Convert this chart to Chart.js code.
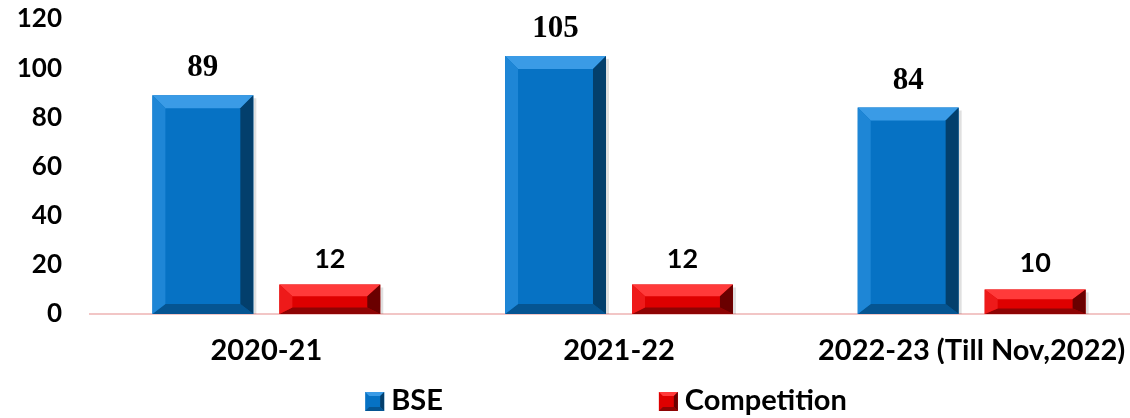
<!DOCTYPE html>
<html>
<head>
<meta charset="utf-8">
<script src="https://cdn.jsdelivr.net/npm/chart.js@4.4.1/dist/chart.umd.min.js"></script>
<style>
  html, body { margin: 0; padding: 0; background: #fff; overflow: hidden; }
  #wrap { width: 1160px; height: 418px; }
</style>
</head>
<body>
<div id="wrap"><canvas id="myChart" width="1160" height="418"></canvas></div>
<script>
const categories = ['2020-21', '2021-22', '2022-23 (Till Nov,2022)'];
const bseValues = [89, 105, 84];
const competitionValues = [12, 12, 10];
const yTicks = [0, 20, 40, 60, 80, 100, 120];

// bevel colours per series: face, top, left, right, bottom
const bevels = [
  { face: '#0672C4', top: '#3A9BE6', left: '#1E86D6', right: '#033F6C', bottom: '#055592' },
  { face: '#DE0000', top: '#FF3A3A', left: '#EE1A1A', right: '#6A0000', bottom: '#8E0404' }
];

const bevelBars = {
  id: 'bevelBars',
  afterDatasetsDraw(chart) {
    const ctx = chart.ctx;
    chart.data.datasets.forEach((ds, i) => {
      const meta = chart.getDatasetMeta(i);
      const c = bevels[i];
      meta.data.forEach(bar => {
        const p = bar.getProps(['x', 'y', 'base', 'width'], true);
        const l = p.x - p.width / 2, r = p.x + p.width / 2;
        const t = p.y, b = p.base;
        const h = b - t;
        const bt = Math.min(13, h * 0.4);
        const bb = Math.min(10, h * 0.22);
        const bs = 13;
        ctx.save();
        ctx.fillStyle = 'rgba(0,0,0,0.12)';
        ctx.fillRect(r, t + 3, 3, h - 3);
        const poly = (pts, col) => {
          ctx.beginPath();
          ctx.moveTo(pts[0][0], pts[0][1]);
          for (let k = 1; k < pts.length; k++) ctx.lineTo(pts[k][0], pts[k][1]);
          ctx.closePath();
          ctx.fillStyle = col;
          ctx.fill();
        };
        poly([[l, t], [r, t], [r - bs, t + bt], [l + bs, t + bt]], c.top);
        poly([[l, b], [r, b], [r - bs, b - bb], [l + bs, b - bb]], c.bottom);
        poly([[l, t], [l + bs, t + bt], [l + bs, b - bb], [l, b]], c.left);
        poly([[r, t], [r - bs, t + bt], [r - bs, b - bb], [r, b]], c.right);
        ctx.restore();
      });
    });
  }
};

const valueLabels = {
  id: 'valueLabels',
  afterDatasetsDraw(chart) {
    const ctx = chart.ctx;
    chart.data.datasets.forEach((ds, i) => {
      const meta = chart.getDatasetMeta(i);
      meta.data.forEach((bar, j) => {
        ctx.save();
        ctx.fillStyle = '#000';
        ctx.textAlign = 'center';
        ctx.textBaseline = 'alphabetic';
        ctx.font = i === 0 ? 'bold 31px "Liberation Serif"' : 'bold 27px Lato';
        ctx.fillText(String(ds.data[j]), bar.x, bar.y - (i === 0 ? 19 : 17));
        ctx.restore();
      });
    });
  }
};

const customLegend = {
  id: 'customLegend',
  afterDraw(chart) {
    const ctx = chart.ctx;
    ctx.save();
    ctx.font = 'bold 29px Lato';
    const box = 19, gapText = 7, gapItem = 216;
    const widths = chart.data.datasets.map(ds => box + gapText + ctx.measureText(ds.label).width);
    const total = widths.reduce((a, w) => a + w, 0) + gapItem * (widths.length - 1);
    let x = 606 - total / 2;
    const yMid = 401;
    chart.data.datasets.forEach((ds, i) => {
      const c = bevels[i];
      const t = yMid - 9, l = x, r = x + box, b = t + box, s = 4;
      ctx.fillStyle = c.face; ctx.fillRect(l, t, box, box);
      ctx.fillStyle = c.top;
      ctx.beginPath(); ctx.moveTo(l, t); ctx.lineTo(r, t); ctx.lineTo(r - s, t + s); ctx.lineTo(l + s, t + s); ctx.fill();
      ctx.fillStyle = c.right;
      ctx.beginPath(); ctx.moveTo(r, t); ctx.lineTo(r, b); ctx.lineTo(r - s, b - s); ctx.lineTo(r - s, t + s); ctx.fill();
      ctx.fillStyle = c.bottom;
      ctx.beginPath(); ctx.moveTo(l, b); ctx.lineTo(r, b); ctx.lineTo(r - s, b - s); ctx.lineTo(l + s, b - s); ctx.fill();
      ctx.fillStyle = '#000';
      ctx.textAlign = 'left';
      ctx.textBaseline = 'middle';
      ctx.fillText(ds.label, x + box + gapText, yMid);
      x += widths[i] + gapItem;
    });
    ctx.restore();
  }
};

new Chart(document.getElementById('myChart').getContext('2d'), {
  type: 'bar',
  data: {
    labels: categories,
    datasets: [
      { label: 'BSE', data: bseValues, backgroundColor: bevels[0].face, borderWidth: 0 },
      { label: 'Competition', data: competitionValues, backgroundColor: bevels[1].face, borderWidth: 0 }
    ]
  },
  options: {
    responsive: false,
    animation: false,
    layout: { padding: { left: 0, right: 12, top: 19, bottom: 54 } },
    datasets: { bar: { categoryPercentage: 0.72, barPercentage: 0.795 } },
    plugins: { legend: { display: false }, tooltip: { enabled: false } },
    scales: {
      x: {
        afterFit(scale) { scale.height = 50; },
        grid: { display: false, drawTicks: false },
        border: { display: true, color: '#F2C6C6', width: 2 },
        ticks: { color: '#000', padding: 19, font: { family: 'Lato', weight: 'bold', size: 29 } }
      },
      y: {
        min: 0,
        max: 120,
        afterFit(scale) {
          scale.width = 90;
          scale.paddingTop = 0;
          scale.paddingBottom = 0;
        },
        afterBuildTicks(scale) { scale.ticks = yTicks.map(v => ({ value: v })); },
        grid: { display: false, drawTicks: false },
        border: { display: false },
        ticks: { color: '#000', padding: 28, font: { family: 'Lato', weight: 'bold', size: 26 } }
      }
    }
  },
  plugins: [bevelBars, valueLabels, customLegend]
});
</script>
</body>
</html>
